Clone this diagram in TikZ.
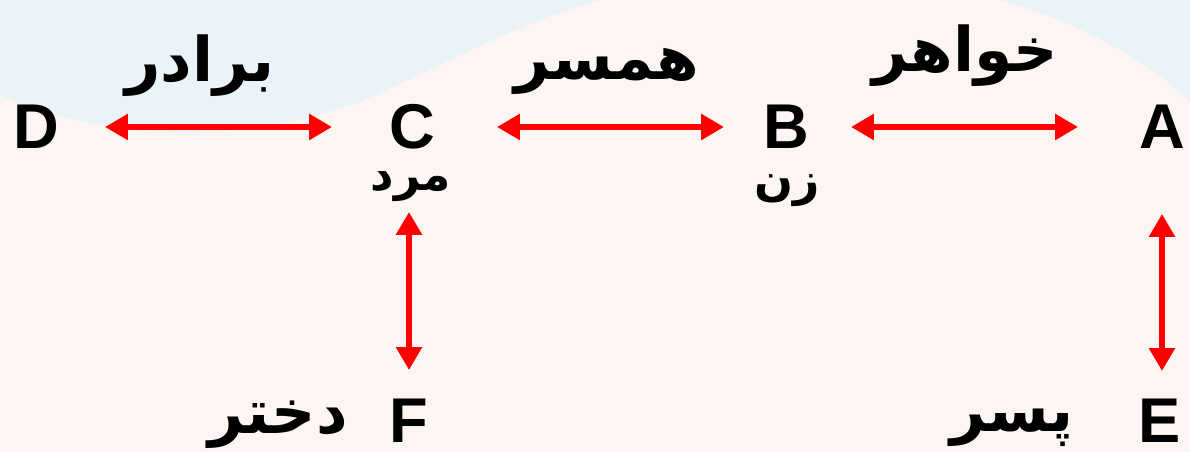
\documentclass[tikz,border=0pt]{standalone}
\usepackage{fontspec}
\setmainfont{Liberation Sans}
\newfontfamily\farsi[Script=Arabic]{DejaVu Sans}
\TeXXeTstate=1
\usetikzlibrary{arrows.meta}
\definecolor{peach}{HTML}{FDF5F1}
\definecolor{skyblue}{HTML}{EAF4F8}
\definecolor{arrowred}{HTML}{FF0000}
\tikzset{
  rel/.style={arrowred, line width=0.12cm,
    {Triangle[length=0.46cm,width=0.5cm]}-{Triangle[length=0.46cm,width=0.5cm]}},
  letter/.style={font=\bfseries\fontsize{36}{40}\selectfont, inner sep=0pt},
  word/.style={font=\farsi\bfseries\fontsize{35}{40}\selectfont, inner sep=0pt, anchor=base},
  smallword/.style={word, font=\farsi\bfseries\fontsize{26}{30}\selectfont},
}
\begin{document}
\begin{tikzpicture}[x=0.02cm,y=0.02cm]
    % background
    \fill[peach] (0,0) rectangle (1190,452);
    \fill[skyblue] (0,452) -- (0,357) .. controls (80,320) and (220,300) .. (360,350)
      .. controls (450,390) and (520,430) .. (600,452) -- cycle;
    \fill[skyblue] (1000,452) .. controls (1080,430) and (1150,390) .. (1190,350) -- (1190,452) -- cycle;
    \useasboundingbox (0,0) rectangle (1190,452);
    % letters
    \foreach \x/\n in {36/D,412/C,786/B,1162/A} {
      \node[letter] (\n) at (\x,325) {\n};
    }
    \foreach \x/\n in {409/F,1160/E} {
      \node[letter] (\n) at (\x,31) {\n};
    }
    % relations
    \node[word] (brother) at (200,370) {\beginR برادر\endR};
    \node[word] (spouse) at (607,372) {\beginR همسر\endR};
    \node[word] (sister) at (965,380) {\beginR خواهر\endR};
    \node[smallword] (man) at (411,261) {\beginR مرد\endR};
    \node[smallword] (woman) at (787,256) {\beginR زن\endR};
    \node[word] (daughter) at (278,18) {\beginR دختر\endR};
    \node[word] (son) at (1012,20) {\beginR پسر\endR};
    % arrows
    \draw[rel, shorten <=1.38cm, shorten >=1.6cm] (D.center) -- (C.center);
    \draw[rel, shorten <=1.7cm, shorten >=1.24cm] (C.center) -- (B.center);
    \draw[rel, shorten <=1.3cm, shorten >=1.68cm] (B.center) -- (A.center);
    \draw[rel, shorten <=1.7cm, shorten >=1.02cm] (F.center |- C.center) -- (F.center);
    \draw[rel, shorten <=1.74cm, shorten >=1.0cm] (A.center) -- (A.center |- E.center);
  \end{tikzpicture}
\end{document}
